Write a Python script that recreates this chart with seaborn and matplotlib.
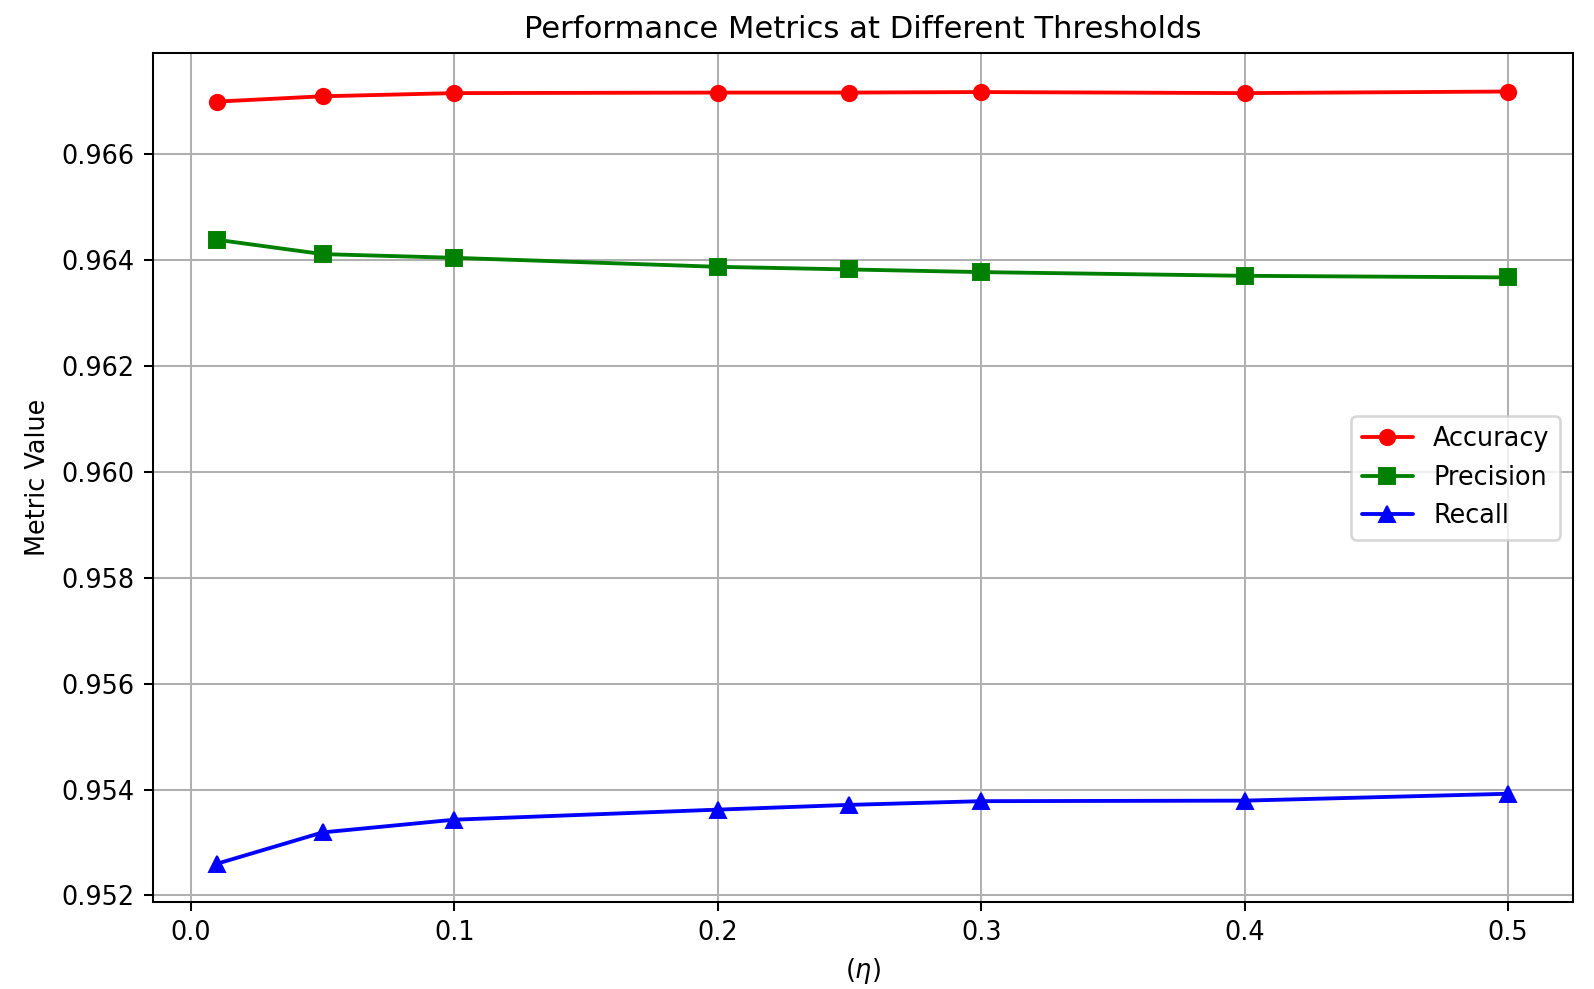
import pandas as pd
import matplotlib
matplotlib.use("Agg")
import matplotlib.pyplot as plt
import seaborn as sns

# Threshold values and metrics
thresholds = [0.01, 0.05, 0.1, 0.2, 0.25, 0.3, 0.4, 0.5]
accuracy = [0.96699, 0.96709, 0.96715, 0.96716, 0.96716, 0.96717, 0.96715, 0.96718]
precision = [0.96438, 0.96411, 0.96404, 0.96387, 0.96382, 0.96377, 0.96370, 0.96367]
recall = [0.95260, 0.95319, 0.95343, 0.95362, 0.95371, 0.95378, 0.95379, 0.95392]

series = [
    ("Accuracy", accuracy, "red", "o"),
    ("Precision", precision, "green", "s"),
    ("Recall", recall, "blue", "^"),
]

DPI = 184

sns.set_style("ticks")
plt.rcParams["font.family"] = ["DejaVu Sans"]
plt.rcParams["text.color"] = "black"
plt.rcParams["axes.labelcolor"] = "black"
plt.rcParams["xtick.color"] = "black"
plt.rcParams["ytick.color"] = "black"

fig, ax = plt.subplots(figsize=(1595 / DPI, 989 / DPI), dpi=DPI)

for name, values, color, marker in series:
    df = pd.DataFrame({"threshold": thresholds, "value": values})
    sns.lineplot(data=df, x="threshold", y="value", ax=ax, color=color,
                 marker=marker, markersize=6, markeredgecolor=color,
                 linewidth=1.5, label=name, sort=False, estimator=None)

ax.set_title("Performance Metrics at Different Thresholds", fontsize=12)
ax.set_xlabel(r"$(\eta)$")
ax.set_ylabel("Metric Value")
ax.grid(True, color="#b0b0b0", linewidth=0.8)
ax.legend(loc="center right", fontsize=10)
for spine in ax.spines.values():
    spine.set_visible(True)
    spine.set_color("black")
    spine.set_linewidth(0.8)
ax.tick_params(axis="both", labelsize=10, length=3.5, width=0.8, color="black")

plt.subplots_adjust(left=0.0957, right=0.986, top=0.9465, bottom=0.0877)
plt.savefig("out.png", dpi=DPI)
plt.close()
